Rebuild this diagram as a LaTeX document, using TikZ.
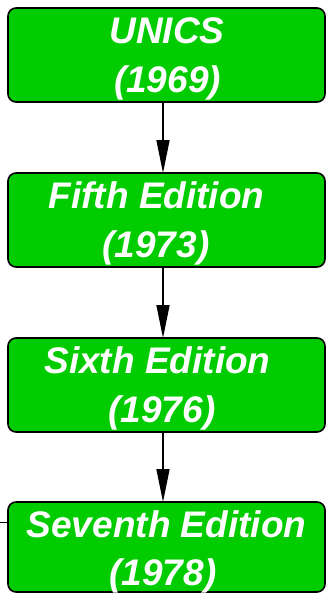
\documentclass[tikz,border=0pt]{standalone}
\usepackage{fontspec}
\setmainfont{Liberation Sans}
\usetikzlibrary{arrows.meta}
\definecolor{boxgreen}{RGB}{0,204,0}
\begin{document}
\begin{tikzpicture}[x=1pt,y=1pt,
  unixbox/.style={draw=black, line width=1.6pt, fill=boxgreen, rounded corners=8pt,
    minimum width=317pt, minimum height=94pt, inner sep=0pt, outer sep=0pt},
  lbl/.style={text=white, font=\fontsize{37}{40}\selectfont\bfseries\itshape,
    inner sep=0pt, anchor=base},
  flow/.style={line width=1.5pt, -{Triangle[length=33pt,width=13pt]}},
  feed/.style={line width=1pt}]
\useasboundingbox (0,0) rectangle (328,-597);
\node[unixbox] (b1) at (166.5,-55) {};
\node[unixbox] (b2) at (166.5,-220) {};
\node[unixbox] (b3) at (166.5,-385) {};
\node[unixbox, minimum height=90pt] (b4) at (166.5,-547) {};
\node[lbl] (t1a) at (167,-43) {UNICS};
\node[lbl] (t1b) at (167.5,-92) {(1969)};
\node[lbl] (t2a) at (156.5,-208) {Fifth Edition};
\node[lbl] (t2b) at (156,-257) {(1973)};
\node[lbl] (t3a) at (157.5,-373) {Sixth Edition};
\node[lbl] (t3b) at (162,-422) {(1976)};
\node[lbl] (t4a) at (166.5,-537) {Seventh Edition};
\node[lbl] (t4b) at (163,-585) {(1978)};
\draw[flow] ([xshift=-3.5pt]b1.south) -- ([xshift=-3.5pt]b2.north);
\draw[flow] ([xshift=-3.5pt]b2.south) -- ([xshift=-3.5pt]b3.north);
\draw[flow] ([xshift=-3.5pt]b3.south) -- ([xshift=-3.5pt]b4.north);
\coordinate (in4) at (0,-522);
\draw[feed] (in4) -- (in4 -| b4.west);
\end{tikzpicture}
\end{document}
